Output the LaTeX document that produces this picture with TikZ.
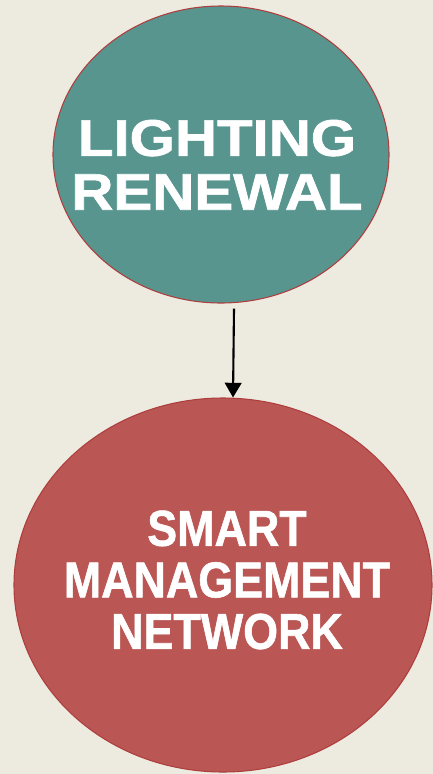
\documentclass[tikz,border=0pt]{standalone}
\usepackage{xcolor}
\usepackage{fontspec}
\usepackage{graphicx}
\usepackage{tikz}
\usetikzlibrary{shapes.geometric, arrows.meta, positioning}

\setsansfont[BoldFeatures={FakeBold=1.2}]{Liberation Sans}

\definecolor{paper}{HTML}{EDEAE0}
\definecolor{tealfill}{HTML}{58958F}
\definecolor{redfill}{HTML}{BA5653}
\definecolor{rimred}{HTML}{AE3E3E}

\newcommand{\headlines}[2]{\scalebox{#1}[1]{\begin{tabular}{@{}c@{}}#2\end{tabular}}}

\begin{document}
\begin{tikzpicture}[
    x=0.03cm, y=-0.03cm,
    phase/.style={ellipse, draw=rimred, line width=0.9pt, inner sep=0pt},
    caption/.style={text=white, inner sep=0pt},
    flow/.style={-{Triangle[length=0.44cm, width=0.5cm]}, line width=1.8pt, black}
]
    % Background
    \fill[paper] (0,0) rectangle (433,774);
    \useasboundingbox (0,0) rectangle (433,774);

    % Lighting Renewal
    \node[phase, fill=tealfill, minimum width=10.08cm, minimum height=8.91cm] (lighting) at (221,154.5) {};
    \node[caption, font={\sffamily\bfseries\fontsize{44pt}{46pt}\selectfont}] (lightingtext) at (217,172)
        {\headlines{1.13}{LIGHTING\\RENEWAL}};

    % Smart Management Network
    \node[phase, fill=redfill, minimum width=12.54cm, minimum height=11.22cm] (network) at (223,585) {};
    \node[caption, font={\sffamily\bfseries\fontsize{43pt}{44pt}\selectfont}] (networktext) at (227,587)
        {\headlines{0.89}{SMART\\MANAGEMENT\\NETWORK}};

    % Link
    \draw[flow] ([xshift=0.39cm, yshift=-0.15cm]lighting.south) -- ([xshift=0.3cm]network.north);
\end{tikzpicture}
\end{document}
